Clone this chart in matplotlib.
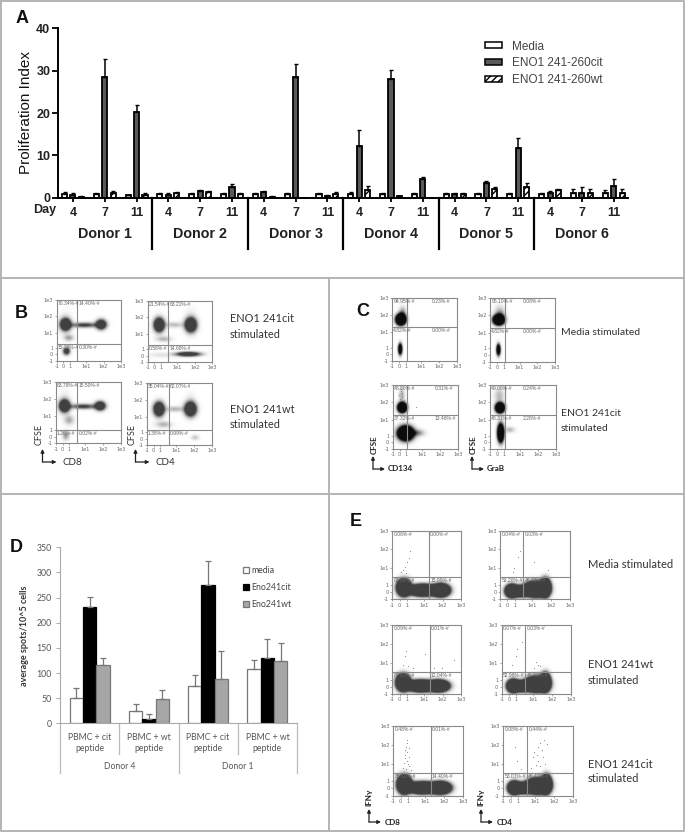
import numpy as np
import matplotlib
matplotlib.use("Agg")
import matplotlib.pyplot as plt
from matplotlib.patches import Patch

W, H = 686, 833
SANS = ["Liberation Sans", "DejaVu Sans"]
SOFT = ["Lato", "DejaVu Sans"]

# panel A
days = ["4", "7", "11"] * 6
donors_a = ["Donor 1", "Donor 2", "Donor 3", "Donor 4", "Donor 5", "Donor 6"]
media = [0.8, 0.8, 0.7, 0.8, 0.8, 0.8, 0.8, 0.8, 0.8, 0.9, 0.9, 0.9, 0.9, 0.9, 0.9, 0.9, 1.0, 1.0]
media_err = [0.6, 0.2, 0.0, 0.2, 0.2, 0.2, 0.3, 0.2, 0.3, 0.5, 0.2, 0.1, 0.2, 0.2, 0.1, 0.2, 1.0, 0.8]
cit = [0.6, 28.5, 20.3, 0.6, 1.6, 2.5, 1.3, 28.6, 0.5, 12.3, 28.0, 4.3, 0.9, 3.5, 11.8, 1.0, 1.2, 2.7]
cit_err = [0.5, 4.2, 1.5, 0.4, 0.3, 0.7, 0.4, 2.9, 0.2, 3.7, 2.2, 0.7, 0.3, 0.4, 2.4, 0.5, 1.3, 1.6]
wt = [0.2, 1.0, 0.6, 1.1, 1.3, 0.8, 0.2, 0.0, 0.9, 1.9, 0.4, 0.0, 0.9, 2.1, 2.5, 1.9, 1.1, 1.2]
wt_err = [0.1, 0.5, 0.4, 0.3, 0.4, 0.2, 0.1, 0.0, 0.5, 0.9, 0.1, 0.0, 0.1, 0.4, 0.9, 0.2, 1.0, 0.8]

# panel D
groups_d = ["PBMC + cit\npeptide", "PBMC + wt\npeptide", "PBMC + cit\npeptide", "PBMC + wt\npeptide"]
donors_d = ["Donor 4", "Donor 1"]
d_media = [51, 24, 75, 108]
d_media_top = [70, 39, 97, 126]
d_cit = [232, 9, 275, 129]
d_cit_top = [252, 18, 323, 167]
d_wt = [115, 49, 88, 124]
d_wt_top = [130, 67, 143, 160]

# flow plots: decade tick labels and their place along each axis
flow_ticks = [0, 0.105, 0.21, 0.455, 0.73, 1]
flow_ticklabels = ["-1", "0", "1", "1e1", "1e2", "1e3"]

# density blobs (x, y, spread x, spread y, weight), x and y as share of the axis
b1_blobs = [(0.13, 0.6, 0.05, 0.06, 3), (0.13, 0.6, 0.018, 0.02, -2.2), (0.42, 0.59, 0.14, 0.028, 1.1),
            (0.68, 0.6, 0.05, 0.05, 2.5), (0.18, 0.38, 0.05, 0.035, 0.5), (0.145, 0.16, 0.035, 0.04, 1.6),
            (0.13, 0.62, 0.07, 0.13, 0.15)]
b2_blobs = [(0.17, 0.6, 0.05, 0.07, 3), (0.66, 0.6, 0.055, 0.07, 3), (0.4, 0.6, 0.1, 0.03, 0.35),
            (0.24, 0.37, 0.08, 0.03, 0.4), (0.62, 0.125, 0.12, 0.024, 2.0), (0.2, 0.11, 0.13, 0.03, 0.15),
            (0.66, 0.65, 0.06, 0.14, 0.15)]
b3_blobs = [(0.13, 0.6, 0.05, 0.06, 3), (0.13, 0.6, 0.018, 0.02, -2.2), (0.42, 0.59, 0.14, 0.028, 1.1),
            (0.68, 0.6, 0.05, 0.045, 2.5), (0.2, 0.37, 0.05, 0.05, 0.45), (0.15, 0.12, 0.035, 0.05, 0.55),
            (0.13, 0.65, 0.06, 0.14, 0.15)]
b4_blobs = [(0.18, 0.58, 0.05, 0.07, 3), (0.66, 0.58, 0.055, 0.07, 3), (0.42, 0.58, 0.1, 0.03, 0.4),
            (0.25, 0.33, 0.08, 0.035, 0.4), (0.73, 0.12, 0.04, 0.03, 0.3), (0.66, 0.65, 0.05, 0.12, 0.15)]
c1_blobs = [(0.134, 0.65, 0.045, 0.05, 5), (0.16, 0.74, 0.035, 0.07, 0.5), (0.124, 0.185, 0.02, 0.055, 2.5)]
c2_blobs = [(0.133, 0.66, 0.05, 0.045, 5), (0.15, 0.74, 0.05, 0.08, 0.5), (0.128, 0.19, 0.02, 0.055, 2.5)]
c3_blobs = [(0.138, 0.65, 0.04, 0.045, 5), (0.13, 0.84, 0.03, 0.07, 0.35), (0.19, 0.245, 0.07, 0.065, 5),
            (0.37, 0.25, 0.07, 0.035, 0.5)]
c4_blobs = [(0.15, 0.645, 0.04, 0.045, 5), (0.14, 0.83, 0.05, 0.08, 0.3), (0.16, 0.25, 0.03, 0.085, 4),
            (0.3, 0.3, 0.05, 0.03, 0.3)]
e1_blobs = [(0.17, 0.165, 0.055, 0.065, 8), (0.45, 0.125, 0.11, 0.045, 8), (0.71, 0.125, 0.07, 0.05, 8)]
e2_blobs = [(0.165, 0.115, 0.05, 0.05, 8), (0.29, 0.11, 0.06, 0.04, 8), (0.5, 0.14, 0.09, 0.06, 8),
            (0.64, 0.165, 0.04, 0.07, 8)]
e3_blobs = [(0.16, 0.165, 0.055, 0.065, 8), (0.42, 0.115, 0.11, 0.045, 8), (0.68, 0.115, 0.08, 0.045, 8)]
e4_blobs = [(0.16, 0.115, 0.05, 0.05, 8), (0.29, 0.11, 0.06, 0.04, 8), (0.49, 0.14, 0.09, 0.06, 8),
            (0.62, 0.17, 0.04, 0.07, 8)]
e5_blobs = [(0.16, 0.165, 0.055, 0.07, 8), (0.42, 0.115, 0.11, 0.045, 8), (0.68, 0.115, 0.08, 0.047, 8)]
e6_blobs = [(0.16, 0.115, 0.05, 0.05, 8), (0.29, 0.11, 0.06, 0.04, 8), (0.49, 0.14, 0.09, 0.06, 8),
            (0.62, 0.17, 0.04, 0.07, 8)]

# single events outside the clouds
c3_dots = [(0.12, 0.9), (0.15, 0.88), (0.1, 0.84), (0.14, 0.81), (0.11, 0.78), (0.17, 0.76), (0.13, 0.93), (0.35, 0.66)]
e1_dots = [(0.22, 0.55), (0.24, 0.6), (0.18, 0.47), (0.16, 0.42), (0.2, 0.38), (0.25, 0.7), (0.12, 0.4)]
e2_dots = [(0.2, 0.45), (0.19, 0.4), (0.28, 0.7), (0.26, 0.62), (0.48, 0.55), (0.68, 0.42)]
e3_dots = [(0.18, 0.55), (0.2, 0.62), (0.23, 0.4), (0.16, 0.42), (0.3, 0.38), (0.48, 0.58), (0.6, 0.38), (0.9, 0.5), (0.72, 0.38)]
e4_dots = [(0.15, 0.42), (0.2, 0.55), (0.22, 0.65), (0.29, 0.75), (0.5, 0.47), (0.52, 0.42), (0.47, 0.38), (0.55, 0.4)]
e5_dots = [(0.16, 0.65), (0.18, 0.7), (0.2, 0.75), (0.2, 0.62), (0.17, 0.58), (0.22, 0.55), (0.19, 0.5), (0.15, 0.47),
           (0.21, 0.45), (0.14, 0.4), (0.23, 0.42), (0.18, 0.38), (0.22, 0.68), (0.16, 0.54), (0.2, 0.8), (0.25, 0.37)]
e6_dots = [(0.17, 0.7), (0.2, 0.5), (0.25, 0.38), (0.42, 0.55), (0.44, 0.63), (0.5, 0.7), (0.52, 0.75), (0.55, 0.66),
           (0.48, 0.58), (0.5, 0.5), (0.56, 0.55), (0.46, 0.44), (0.53, 0.42), (0.4, 0.4), (0.6, 0.46), (0.62, 0.74), (0.58, 0.8)]

b1_pct = ["70.34%-#", "14.40%-#", "15.26%-#", "0.30%-#"]
b2_pct = ["21.54%-#", "63.21%-#", "0.58%-#", "14.68%-#"]
b3_pct = ["83.78%-#", "15.50%-#", "1.26%-#", "0.02%-#"]
b4_pct = ["35.04%-#", "62.07%-#", "1.38%-#", "0.99%-#"]
c1_pct = ["94.95%-#", "0.23%-#", "4.82%-#", "0.00%-#"]
c2_pct = ["95.10%-#", "0.08%-#", "4.82%-#", "0.00%-#"]
c3_pct = ["48.80%-#", "0.31%-#", "37.32%-#", "13.46%-#"]
c4_pct = ["49.08%-#", "0.24%-#", "48.31%-#", "2.28%-#"]
e1_pct = ["0.06%-#", "0.00%-#", "83.56%-#", "15.99%-#"]
e2_pct = ["0.04%-#", "0.03%-#", "53.20%-#", "46.73%-#"]
e3_pct = ["0.09%-#", "0.01%-#", "87.87%-#", "12.04%-#"]
e4_pct = ["0.07%-#", "0.03%-#", "52.98%-#", "46.92%-#"]
e5_pct = ["0.48%-#", "0.01%-#", "85.10%-#", "14.40%-#"]
e6_pct = ["0.08%-#", "0.44%-#", "53.01%-#", "46.47%-#"]


def px_axes(fig, left, top, right, bottom, **kw):
    return fig.add_axes([left / W, 1 - bottom / H, (right - left) / W, (bottom - top) / H], **kw)


def flow_plot(fig, box, gate_x, gate_y, blobs, pct, dots=(), right_x=None, dark=0.75):
    ax = px_axes(fig, *box)
    xs = np.linspace(0, 1, 160)
    xx, yy = np.meshgrid(xs, xs)
    field = np.zeros_like(xx)
    for cx, cy, sx, sy, w in blobs:
        field += w * np.exp(-((xx - cx) ** 2 / (2 * sx ** 2) + (yy - cy) ** 2 / (2 * sy ** 2)))
    shade = 1 - dark * np.clip(field, 0, 1)
    ax.imshow(shade, extent=(0, 1, 0, 1), origin="lower", cmap="gray", vmin=0, vmax=1,
              aspect="auto", interpolation="bilinear", zorder=1)
    if len(dots):
        ax.scatter(*zip(*dots), s=0.7, color="#8c8c8c", linewidths=0, zorder=2)
    ax.axvline(gate_x, color="#8a8a8a", lw=0.8, zorder=3)
    ax.axhline(gate_y, color="#8a8a8a", lw=0.8, zorder=3)
    ax.set_xlim(0, 1)
    ax.set_ylim(0, 1)
    ax.set_xticks(flow_ticks, flow_ticklabels)
    ax.set_yticks(flow_ticks, flow_ticklabels)
    ax.tick_params(labelsize=3.6, length=1.5, width=0.4, pad=1, colors="#666666")
    for s in ax.spines.values():
        s.set_color("#8a8a8a")
        s.set_linewidth(0.8)
    rx = gate_x + 0.02 if right_x is None else right_x
    opts = dict(fontsize=3.6, color="#666666", family=SANS, zorder=4)
    ax.text(0.02, 0.985, pct[0], va="top", **opts)
    ax.text(rx, 0.985, pct[1], va="top", **opts)
    ax.text(0.02, gate_y - 0.015, pct[2], va="top", **opts)
    ax.text(rx, gate_y - 0.015, pct[3], va="top", **opts)
    return ax


def arrows(ov, x, y, top, right):
    style = dict(arrowstyle="-|>", color="#222222", lw=0.9, mutation_scale=5, shrinkA=0, shrinkB=0)
    ov.annotate("", xy=(x, top), xytext=(x, y), arrowprops=style)
    ov.annotate("", xy=(right, y), xytext=(x, y), arrowprops=style)


fig = plt.figure(figsize=(W / 100, H / 100), dpi=100, facecolor="white")

# full figure overlay in pixels: panel frames, side notes, letters
ov = px_axes(fig, 0, 0, W, H, zorder=5)
ov.set_xlim(0, W)
ov.set_ylim(H, 0)
ov.axis("off")
ov.patch.set_alpha(0)
frame = dict(color="#b4b4b4", lw=1.4)
ov.plot([1, 684, 684, 1, 1], [1, 1, 831, 831, 1], **frame)
ov.plot([1, 684], [278, 278], **frame)
ov.plot([1, 684], [493.5, 493.5], **frame)
ov.plot([329, 329], [278, 831], **frame)

for letter, x, y in [("A", 22, 18), ("B", 21, 314), ("C", 363, 312), ("D", 16, 547), ("E", 356, 521)]:
    ov.text(x, y, letter, fontsize=13, fontweight="bold", family=SANS, ha="center", va="center", color="#111111")

notes = dict(color="#333333", family=SOFT, va="center")
for txt, x, y, size in [("ENO1 241cit", 230, 319, 7.9), ("stimulated", 230, 334, 7.9), ("ENO1 241wt", 230, 409, 7.9),
                        ("stimulated", 230, 424, 7.9), ("Media stimulated", 561, 332, 7.5), ("ENO1 241cit", 561, 413, 7.5),
                        ("stimulated", 561, 428, 7.5), ("Media stimulated", 588, 565, 8), ("ENO1 241wt", 588, 664, 8),
                        ("stimulated", 588, 680, 8), ("ENO1 241cit", 588, 764, 8), ("stimulated", 588, 779, 8)]:
    ov.text(x, y, txt, fontsize=size, **notes)

axis_name = dict(fontsize=7, color="#333333", family=SOFT, va="center")
axis_bold = dict(fontsize=5.8, color="#222222", family=SOFT, va="center", fontweight="bold")
for x, name in [(42.5, "CD8"), (135.5, "CD4")]:
    arrows(ov, x, 462, 449, x + 14)
    ov.text(x - 3.5, 434, "CFSE", rotation=90, ha="center", **{**axis_name, "fontsize": 6.5})
    ov.text(x + 20, 462.5, name, **axis_name)
for x, name in [(373, "CD134"), (472, "GraB")]:
    arrows(ov, x, 469, 456, x + 12)
    ov.text(x + 1, 445, "CFSE", rotation=90, ha="center", **axis_bold)
    ov.text(x + 15, 468.5, name, **axis_bold)
for x, name in [(369, "CD8"), (481, "CD4")]:
    arrows(ov, x, 822, 809, x + 12)
    ov.text(x, 797, "IFNγ", rotation=90, ha="center", **axis_bold)
    ov.text(x + 16, 822.5, name, **axis_bold)

# panel A
ax = px_axes(fig, 58, 28.3, 628, 197.7)
idx = np.arange(18)
off, bw = 0.265, 0.16
bar_style = dict(width=bw, edgecolor="black", linewidth=1.3, error_kw=dict(ecolor="black", elinewidth=1.1, capsize=1.1, capthick=1.0))
zeros = np.zeros(18)
ax.bar(idx - off, media, yerr=[zeros, media_err], color="white", **bar_style)
ax.bar(idx, cit, yerr=[zeros, cit_err], color="#595959", **bar_style)
ax.bar(idx + off, wt, yerr=[zeros, wt_err], color="white", hatch="/////", **bar_style)
ax.set_xlim(-0.47, 17.45)
ax.set_ylim(0, 40)
ax.set_yticks([0, 10, 20, 30, 40])
ax.set_xticks(idx, days)
ax.tick_params(axis="y", labelsize=9, width=1.3, length=4, pad=1.5)
ax.tick_params(axis="x", labelsize=9, width=1.3, length=3, pad=4)
for lab in ax.get_xticklabels() + ax.get_yticklabels():
    lab.set_fontweight("bold")
    lab.set_family(SANS)
    lab.set_color("#222222")
ax.set_ylabel("Proliferation Index", fontsize=11, family=SANS, color="#111111", labelpad=2)
for s in ["top", "right"]:
    ax.spines[s].set_visible(False)
for s in ["left", "bottom"]:
    ax.spines[s].set_linewidth(1.4)
tr = ax.get_xaxis_transform()
for g in range(6):
    ax.text(3 * g + 1, -0.215, donors_a[g], transform=tr, ha="center", va="center", fontsize=10.3,
            fontweight="bold", family=SANS, color="#222222", clip_on=False)
    if g < 5:
        ax.plot([3 * g + 2.5] * 2, [0, -0.3], transform=tr, color="black", lw=1.6, clip_on=False)
ax.text(-0.9, -0.075, "Day", transform=tr, ha="center", va="center", fontsize=9, fontweight="bold", family=SANS, color="#222222")
handles = [Patch(facecolor="white", edgecolor="black", lw=1.1),
           Patch(facecolor="#595959", edgecolor="black", lw=1.1),
           Patch(facecolor="white", edgecolor="black", lw=1.1, hatch="/////")]
ax.legend(handles, ["Media", "ENO1 241-260cit", "ENO1 241-260wt"], loc="upper left", frameon=False,
          bbox_to_anchor=((485 - 58) / 570, 1 - (40.5 - 28.3) / 169.4), borderaxespad=0, borderpad=0,
          handlelength=1.4, handleheight=0.42, handletextpad=0.85, labelspacing=0.42,
          prop=dict(family=SANS, size=8.5), labelcolor="#444444")

# flow panels
flow_plot(fig, (56.7, 300, 121, 360.7), 0.32, 0.275, b1_blobs, b1_pct)
flow_plot(fig, (147.7, 300.7, 212.3, 362), 0.32, 0.27, b2_blobs, b2_pct)
flow_plot(fig, (55.7, 382.3, 120.7, 443.3), 0.33, 0.22, b3_blobs, b3_pct)
flow_plot(fig, (146.7, 383.3, 212, 445), 0.34, 0.24, b4_blobs, b4_pct)

flow_plot(fig, (392, 297.7, 456.7, 361), 0.227, 0.53, c1_blobs, c1_pct, right_x=0.62, dark=0.95)
flow_plot(fig, (490, 297.7, 555, 361.7), 0.225, 0.52, c2_blobs, c2_pct, right_x=0.5, dark=0.95)
flow_plot(fig, (392.7, 385, 458, 449), 0.224, 0.536, c3_blobs, c3_pct, c3_dots, right_x=0.64, dark=0.95)
flow_plot(fig, (490, 385, 556, 449), 0.232, 0.53, c4_blobs, c4_pct, right_x=0.5, dark=0.95)

flow_plot(fig, (392.3, 530.7, 461.3, 599.3), 0.53, 0.32, e1_blobs, e1_pct, e1_dots)
flow_plot(fig, (500, 530.7, 570, 599.3), 0.333, 0.32, e2_blobs, e2_pct, e2_dots)
flow_plot(fig, (392.3, 625, 461.3, 694), 0.54, 0.32, e3_blobs, e3_pct, e3_dots)
flow_plot(fig, (501.7, 625, 570.7, 694), 0.338, 0.32, e4_blobs, e4_pct, e4_dots)
flow_plot(fig, (393.3, 726, 463.3, 795.7), 0.533, 0.32, e5_blobs, e5_pct, e5_dots)
flow_plot(fig, (503.3, 726, 573.3, 795.7), 0.338, 0.32, e6_blobs, e6_pct, e6_dots)

# panel D
ax = px_axes(fig, 60, 547.3, 297, 723.3)
pos = np.arange(4)
bw = 0.225
grey = "#777777"
err = dict(ecolor=grey, elinewidth=0.9, capsize=2.2, capthick=0.9)
no_low = np.zeros(4)
ax.bar(pos - bw, d_media, bw, yerr=[no_low, np.subtract(d_media_top, d_media)], color="white", edgecolor=grey, lw=0.9, error_kw=err, label="media")
ax.bar(pos, d_cit, bw, yerr=[no_low, np.subtract(d_cit_top, d_cit)], color="black", edgecolor="black", lw=0.9, error_kw=err, label="Eno241cit")
ax.bar(pos + bw, d_wt, bw, yerr=[no_low, np.subtract(d_wt_top, d_wt)], color="#a6a6a8", edgecolor=grey, lw=0.9, error_kw=err, label="Eno241wt")
ax.set_xlim(-0.5, 3.5)
ax.set_ylim(0, 350)
ax.set_yticks(range(0, 351, 50))
ax.set_xticks([])
ax.tick_params(axis="y", labelsize=6.3, length=3, width=0.7, color="#aaaaaa", labelcolor="#555555", pad=3)
for lab in ax.get_yticklabels():
    lab.set_family(SOFT)
ax.set_ylabel("average spots/10^5 cells", fontsize=6.5, fontweight="bold", family=SOFT, color="#333333", labelpad=5)
for s in ["top", "right"]:
    ax.spines[s].set_visible(False)
for s in ["left", "bottom"]:
    ax.spines[s].set_color("#aaaaaa")
    ax.spines[s].set_linewidth(0.8)
tr = ax.get_xaxis_transform()
sep = dict(transform=tr, color="#bbbbbb", lw=0.9, clip_on=False)
for i, label in enumerate(groups_d):
    ax.text(i, -0.11, label, transform=tr, ha="center", va="center", fontsize=6.2, family=SOFT, color="#555555", linespacing=1.3)
for x in [0.5, 2.5]:
    ax.plot([x, x], [0, -0.176], **sep)
for x in [-0.5, 1.5, 3.5]:
    ax.plot([x, x], [0, -0.28], **sep)
for i, label in enumerate(donors_d):
    ax.text(2 * i + 0.5, -0.243, label, transform=tr, ha="center", va="center", fontsize=6.2, family=SOFT, color="#555555")
ax.legend(loc="upper left", frameon=False, bbox_to_anchor=((243 - 60) / 237, 1 - (566 - 547.3) / 176), borderaxespad=0, borderpad=0,
          handlelength=0.7, handleheight=0.7, handletextpad=0.25, labelspacing=0.9,
          prop=dict(family=SOFT, size=6.3), labelcolor="#444444")

fig.savefig("out.png", dpi=100)
